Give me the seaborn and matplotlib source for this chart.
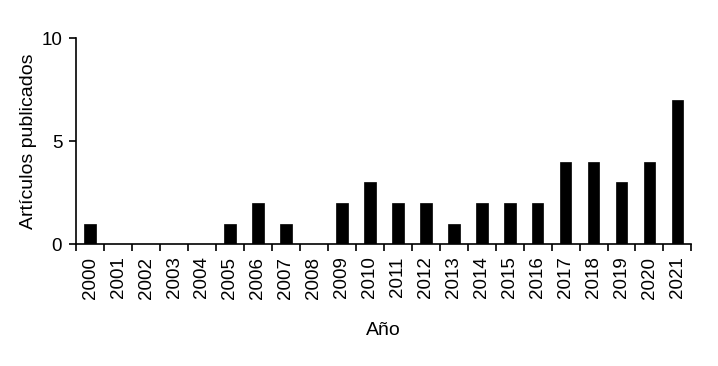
import matplotlib
matplotlib.use("Agg")
import matplotlib.pyplot as plt
import seaborn as sns
import pandas as pd
import numpy as np

years = [str(y) for y in range(2000, 2022)]
articles = [1, 0, 0, 0, 0, 1, 2, 1, 0, 2, 3, 2, 2, 1, 2, 2, 2, 4, 4, 3, 4, 7]

sns.set_theme(style="ticks")
plt.rcParams['font.family'] = ['Liberation Sans', 'DejaVu Sans']
plt.rcParams.update({'text.color': 'black', 'axes.labelcolor': 'black',
                     'xtick.color': 'black', 'ytick.color': 'black'})

df = pd.DataFrame({"Año": years, "Artículos": articles})

fig = plt.figure(figsize=(7.18, 3.66), dpi=100)
ax = fig.add_axes([0.106, 0.333, 0.857, 0.563])
sns.barplot(data=df, x="Año", y="Artículos", color="black", width=0.42,
            saturation=1, edgecolor="black", linewidth=0.5, ax=ax)

ax.set_xlim(-0.5, len(years) - 0.5)
ax.set_ylim(0, 10)
ax.set_yticks([0, 5, 10])
ax.set_xticks(np.arange(-0.5, len(years), 1), minor=True)
ax.tick_params(axis='x', which='major', length=0, rotation=90, labelsize=13.5, pad=9)
ax.tick_params(axis='x', which='minor', length=5, width=1.2, direction='out', color='black')
ax.tick_params(axis='y', length=5, width=1.2, labelsize=13.5, color='black', pad=5)
for s in ['top', 'right']:
    ax.spines[s].set_visible(False)
for s in ['left', 'bottom']:
    ax.spines[s].set_linewidth(1.2)
    ax.spines[s].set_color('black')
ax.set_xlabel("Año", fontsize=14, labelpad=17)
ax.set_ylabel("Artículos publicados", fontsize=14, labelpad=3)
fig.savefig("out.png", dpi=100)
